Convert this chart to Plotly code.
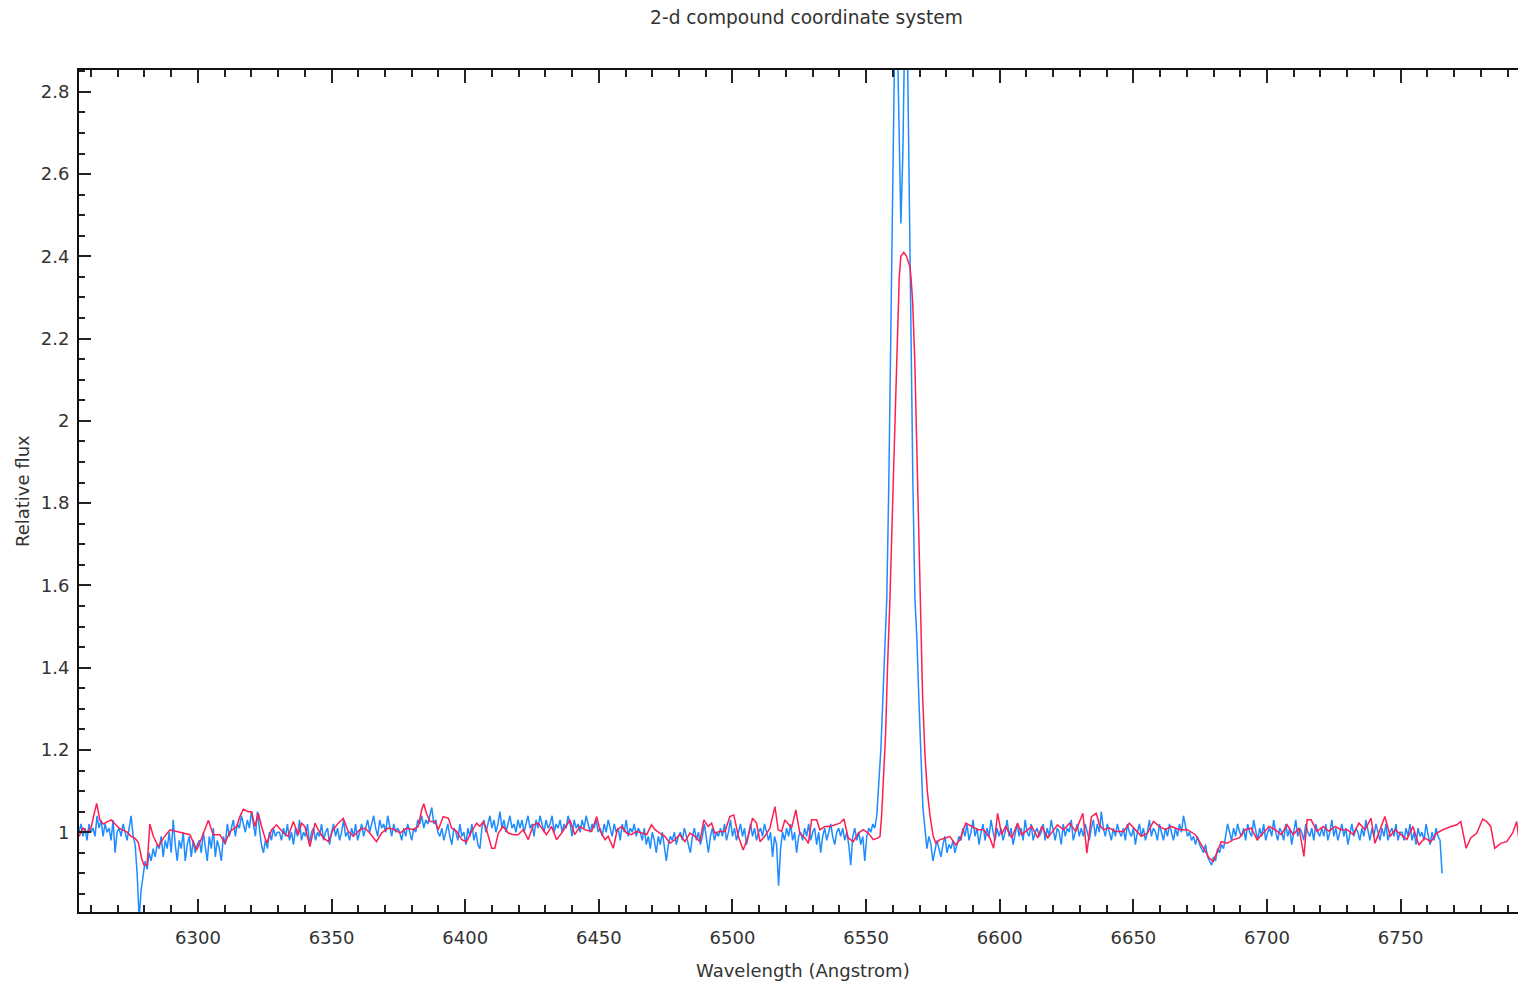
import plotly.graph_objects as go

# blue spectrum: regular wavelength grid, flux
blue_start = 6255.5
blue_step = 0.75
blue_flux = [
    1.00, 1.02, 0.99, 1.01, 0.98, 1.02, 1.00, 1.01, 0.99, 1.04, 1.01, 1.03, 0.99, 1.02, 1.00, 1.01, 0.98, 1.03, 0.95, 1.00,
    1.01, 0.99, 1.02, 1.00, 0.98, 1.01, 1.04, 0.99, 0.97, 0.90, 0.79, 0.86, 0.90, 0.93, 0.91, 0.95, 0.93, 0.96, 0.94, 0.97,
    0.96, 0.99, 0.94, 0.98, 0.96, 1.00, 0.95, 1.03, 0.97, 0.93, 0.98, 0.96, 1.00, 0.93, 0.97, 0.99, 0.94, 0.98, 0.95, 0.97,
    0.98, 0.95, 1.00, 0.97, 0.93, 0.99, 0.96, 1.01, 0.94, 0.98, 0.96, 0.93, 0.99, 0.97, 1.02, 0.99, 1.01, 1.03, 0.99, 1.02,
    1.01, 1.04, 1.02, 1.00, 1.03, 1.01, 1.05, 1.02, 0.99, 1.05, 1.01, 0.97, 0.95, 0.98, 0.96, 1.00, 0.98, 1.01, 0.99, 1.00,
    1.00, 0.98, 1.01, 0.99, 1.02, 0.98, 1.00, 0.97, 1.01, 0.99, 1.03, 0.98, 1.00, 0.99, 1.02, 0.97, 1.00, 1.01, 0.98, 1.00,
    0.99, 1.02, 0.98, 1.00, 1.01, 0.97, 1.00, 1.02, 0.99, 1.01, 0.98, 1.00, 1.03, 0.99, 1.00, 0.98, 1.01, 0.99, 1.02, 0.98,
    1.00, 1.02, 0.99, 1.01, 1.03, 1.00, 1.02, 1.04, 1.01, 0.99, 1.03, 1.01, 1.02, 1.00, 1.04, 1.01, 0.99, 1.02, 1.00, 1.01,
    1.00, 0.98, 1.01, 0.99, 1.02, 1.00, 0.98, 1.01, 1.00, 1.03, 1.02, 1.04, 1.01, 1.03, 1.02, 1.04, 1.06, 1.02, 1.03, 1.00,
    0.99, 1.01, 0.98, 1.00, 1.02, 0.99, 0.97, 1.01, 1.00, 0.98, 1.02, 0.99, 1.00, 0.97, 1.01, 0.99, 1.02, 0.98, 1.00, 0.97,
    0.96, 1.01, 1.03, 1.00, 1.02, 1.04, 1.01, 1.03, 1.00, 1.02, 1.05, 1.01, 1.03, 1.00, 1.02, 1.04, 1.01, 1.02, 1.00, 1.03,
    1.01, 1.03, 1.00, 1.02, 1.04, 1.01, 1.02, 0.99, 1.03, 1.01, 1.04, 1.02, 1.00, 1.03, 1.01, 1.02, 1.04, 1.00, 1.02, 1.01,
    1.03, 1.00, 1.02, 1.01, 1.04, 1.02, 0.99, 1.03, 1.01, 1.02, 1.00, 1.03, 1.01, 1.04, 1.02, 1.00, 1.02, 1.01, 1.03, 1.00,
    1.01, 0.99, 1.02, 1.00, 1.03, 1.01, 0.99, 1.02, 1.00, 1.01, 0.98, 1.02, 1.00, 1.03, 0.99, 1.01, 1.00, 1.02, 0.99, 1.01,
    1.00, 0.98, 1.01, 0.97, 0.99, 0.96, 1.00, 0.98, 0.95, 0.99, 0.97, 1.00, 0.96, 0.93, 0.97, 0.99, 0.98, 1.00, 0.97, 0.99,
    1.00, 0.98, 1.01, 0.99, 0.97, 0.95, 0.99, 1.01, 0.98, 1.00, 0.97, 0.99, 1.02, 0.98, 0.95, 0.99, 1.01, 0.98, 1.00, 0.99,
    1.01, 0.99, 1.02, 0.98, 1.00, 1.03, 0.99, 1.01, 0.98, 1.00, 1.02, 0.99, 1.01, 0.97, 1.00, 1.02, 0.99, 1.01, 0.98, 1.00,
    1.01, 0.99, 1.02, 1.00, 0.98, 1.00, 0.94, 0.99, 0.97, 0.87, 0.96, 1.00, 0.98, 1.01, 0.99, 1.02, 0.98, 1.00, 0.95, 0.99,
    1.00, 0.98, 1.01, 0.99, 1.02, 0.98, 1.00, 1.01, 0.97, 1.00, 0.95, 0.99, 1.01, 0.98, 1.00, 1.02, 0.99, 0.97, 1.00, 1.01,
    0.99, 1.01, 0.98, 1.00, 0.97, 0.92, 0.99, 1.01, 0.98, 1.00, 0.97, 0.99, 0.93, 0.99, 1.01, 1.00, 1.02, 1.01, 1.04, 1.12,
    1.20, 1.32, 1.43, 1.57, 1.85, 2.18, 2.60, 2.95, 3.00, 2.70, 2.48, 2.65, 2.98, 3.02, 2.62, 2.15, 1.85, 1.57, 1.47, 1.32,
    1.20, 1.06, 1.01, 0.96, 0.99, 0.97, 0.93, 0.96, 0.98, 0.96, 0.94, 0.97, 0.99, 0.95, 0.97, 0.96, 0.98, 0.95, 0.97, 0.99,
    0.98, 1.01, 0.99, 1.02, 0.98, 1.00, 1.03, 0.99, 1.01, 0.97, 1.00, 1.02, 0.98, 1.01, 0.99, 1.03, 1.00, 0.98, 1.01, 0.99,
    1.01, 0.98, 1.00, 1.03, 0.99, 1.01, 0.97, 1.00, 1.02, 0.99, 1.01, 0.98, 1.03, 1.00, 0.99, 1.02, 0.98, 1.00, 1.01, 0.99,
    1.00, 1.02, 0.98, 1.01, 0.99, 1.03, 1.00, 0.98, 1.01, 1.00, 0.97, 1.02, 0.99, 1.01, 1.00, 1.03, 0.98, 1.00, 1.02, 0.99,
    1.01, 0.99, 1.02, 1.00, 0.98, 1.01, 1.03, 0.99, 1.02, 1.00, 1.05, 1.01, 0.99, 1.02, 1.00, 0.98, 1.01, 0.99, 1.02, 1.00,
    0.99, 1.01, 0.98, 1.02, 1.00, 0.99, 1.01, 0.97, 1.00, 1.02, 0.99, 1.01, 0.98, 1.00, 1.03, 0.99, 1.01, 1.00, 0.98, 1.02,
    1.00, 0.98, 1.01, 0.99, 1.02, 1.00, 0.98, 1.01, 0.99, 1.02, 1.00, 1.04, 1.01, 0.99, 1.00, 0.98, 0.99, 0.97, 0.99, 0.97,
    0.96, 0.95, 0.97, 0.94, 0.93, 0.92, 0.94, 0.93, 0.96, 0.95, 0.97, 0.96, 0.99, 1.02, 1.00, 0.98, 1.01, 0.99, 1.02, 1.00,
    0.99, 1.01, 0.98, 1.02, 1.00, 0.99, 1.03, 1.00, 0.98, 1.01, 0.99, 1.02, 0.98, 1.00, 1.01, 0.99, 1.03, 1.00, 0.98, 1.01,
    1.00, 0.98, 1.02, 0.99, 1.01, 0.97, 1.00, 1.03, 0.99, 1.01, 1.00, 0.98, 1.02, 1.00, 0.99, 1.01, 0.98, 1.02, 1.00, 0.99,
    1.01, 0.99, 1.02, 0.98, 1.00, 1.03, 0.99, 1.01, 0.98, 1.00, 1.02, 0.99, 1.01, 0.97, 1.00, 1.02, 0.99, 1.01, 1.00, 0.98,
    1.01, 0.99, 1.03, 1.00, 0.98, 1.01, 0.99, 1.02, 1.00, 0.98, 1.01, 0.99, 1.02, 0.98, 1.00, 1.01, 0.99, 1.02, 0.98, 1.00,
    1.00, 0.98, 1.01, 0.99, 1.02, 0.98, 1.00, 0.97, 1.01, 0.99, 1.00, 0.98, 1.02, 0.99, 0.97, 1.00, 0.98, 1.01, 0.99, 0.98,
    0.90,
]

# red spectrum: lower resolution, sampled where it could be read
red_wave = [
    6255.5, 6257.0, 6258.5, 6260.0, 6261.0, 6262.1, 6263.3, 6264.6, 6266.0, 6267.5,
    6269.0, 6270.5, 6272.0, 6273.5, 6275.0, 6276.5, 6277.7, 6279.0, 6279.8, 6281.0,
    6282.0, 6283.3, 6285.2, 6287.0, 6289.5, 6292.0, 6294.5, 6297.0, 6299.5, 6301.4,
    6303.9, 6305.7, 6308.2, 6310.1, 6312.0, 6314.5, 6315.7, 6317.0, 6318.8, 6320.1,
    6321.3, 6322.6, 6323.8, 6325.7, 6327.6, 6329.4, 6332.0, 6333.8, 6335.7, 6337.5,
    6338.8, 6340.0, 6341.9, 6343.8, 6345.0, 6346.9, 6348.8, 6350.6, 6352.5, 6354.4,
    6356.2, 6358.1, 6360.6, 6362.5, 6364.3, 6366.8, 6368.7, 6371.2, 6373.7, 6375.6,
    6378.1, 6380.6, 6382.4, 6383.7, 6384.5, 6385.5, 6386.8, 6388.7, 6389.9, 6391.8,
    6393.7, 6394.9, 6396.8, 6398.7, 6400.5, 6402.4, 6404.3, 6405.5, 6406.8, 6408.0,
    6409.9, 6411.1, 6412.4, 6414.2, 6416.1, 6418.0, 6419.8, 6421.7, 6423.6, 6425.5,
    6427.3, 6429.2, 6430.4, 6432.3, 6434.2, 6436.1, 6437.9, 6439.2, 6441.0, 6442.9,
    6444.8, 6447.3, 6449.2, 6450.4, 6452.3, 6453.5, 6455.4, 6456.9, 6458.5, 6460.4,
    6462.2, 6464.1, 6466.0, 6467.9, 6469.7, 6471.0, 6472.8, 6474.7, 6476.6, 6478.5,
    6480.3, 6482.2, 6484.1, 6485.9, 6487.8, 6489.3, 6490.9, 6492.2, 6493.4, 6495.3,
    6497.2, 6499.0, 6500.5, 6502.2, 6504.0, 6505.9, 6507.5, 6509.0, 6510.3, 6512.1,
    6514.0, 6515.9, 6517.1, 6518.4, 6519.6, 6520.9, 6522.1, 6523.7, 6525.2, 6527.1,
    6528.4, 6529.6, 6531.5, 6532.7, 6534.6, 6536.5, 6538.3, 6540.2, 6541.7, 6543.3,
    6545.2, 6547.1, 6548.9, 6550.8, 6552.7, 6554.5, 6555.2, 6555.8, 6556.4, 6557.3,
    6558.0, 6558.9, 6560.2, 6561.6, 6562.4, 6563.0, 6564.1, 6565.1, 6566.4, 6566.9,
    6567.4, 6568.2, 6569.2, 6570.1, 6571.1, 6572.0, 6572.9, 6573.9, 6575.1, 6576.1,
    6577.6, 6579.8, 6581.3, 6583.6, 6585.1, 6587.3, 6589.5, 6591.8, 6594.0, 6596.3,
    6597.7, 6599.2, 6600.7, 6602.2, 6604.5, 6606.7, 6608.2, 6610.4, 6612.0, 6614.2,
    6615.7, 6618.0, 6620.2, 6621.6, 6623.9, 6626.1, 6628.4, 6631.1, 6632.6, 6634.3,
    6636.1, 6637.3, 6638.8, 6641.1, 6643.3, 6646.3, 6648.5, 6650.8, 6653.0, 6655.3,
    6657.5, 6659.7, 6662.0, 6664.2, 6667.2, 6670.2, 6673.2, 6676.2, 6678.4, 6679.9,
    6681.4, 6682.9, 6685.1, 6687.4, 6689.6, 6691.9, 6694.1, 6696.3, 6698.6, 6700.8,
    6703.1, 6705.3, 6707.5, 6709.8, 6712.0, 6713.8, 6715.0, 6716.5, 6718.7, 6721.0,
    6723.2, 6725.5, 6727.7, 6730.0, 6732.2, 6734.4, 6736.7, 6738.9, 6740.4, 6741.9,
    6744.1, 6746.1, 6747.9, 6750.1, 6752.3, 6754.6, 6756.8, 6759.0, 6761.3, 6763.5,
    6765.8, 6768.8, 6771.0, 6772.5, 6774.5, 6776.2, 6778.5, 6780.7, 6782.2, 6783.7,
    6785.2, 6787.4, 6789.7, 6791.9, 6793.4, 6794.5, 6795.7, 6797.0, 6799.0,
]
red_flux = [
    0.990, 1.010, 1.000, 1.010, 1.040, 1.070, 1.030, 1.020, 1.025, 1.030,
    1.020, 1.010, 1.005, 1.000, 0.990, 0.985, 0.975, 0.935, 0.920, 0.920,
    1.020, 0.990, 0.965, 0.985, 1.006, 1.002, 0.998, 0.994, 0.957, 0.986,
    1.029, 0.994, 0.994, 0.973, 1.002, 1.014, 1.038, 1.056, 1.050, 1.050,
    1.014, 1.046, 1.014, 0.973, 1.006, 1.018, 0.998, 0.990, 1.026, 0.994,
    1.022, 1.014, 0.965, 1.022, 1.006, 0.986, 0.977, 1.006, 1.022, 1.034,
    1.002, 0.990, 1.006, 1.010, 0.998, 0.977, 0.998, 1.010, 1.006, 0.998,
    1.010, 1.006, 1.014, 1.054, 1.069, 1.046, 1.026, 1.026, 1.006, 1.038,
    1.034, 1.010, 1.002, 0.982, 0.977, 1.002, 1.022, 1.014, 1.026, 1.006,
    0.961, 0.961, 0.998, 1.014, 0.998, 0.994, 0.994, 1.006, 0.982, 1.018,
    1.022, 1.006, 0.994, 1.014, 0.982, 0.998, 1.018, 1.030, 0.994, 1.014,
    1.006, 1.002, 1.038, 1.006, 0.982, 0.990, 0.961, 1.006, 1.014, 0.998,
    0.994, 1.002, 0.998, 0.994, 1.018, 1.006, 0.998, 0.990, 0.973, 0.982,
    0.994, 0.977, 0.998, 0.990, 0.977, 1.030, 1.014, 1.022, 0.998, 1.002,
    1.002, 1.038, 1.042, 0.990, 0.957, 0.990, 1.034, 1.022, 0.977, 0.990,
    1.010, 1.062, 1.006, 1.002, 1.030, 1.018, 1.010, 1.054, 0.998, 0.986,
    0.973, 1.030, 1.030, 1.006, 1.014, 1.014, 1.018, 1.022, 1.032, 0.986,
    0.977, 0.998, 1.006, 0.998, 0.982, 0.986, 0.990, 1.040, 1.120, 1.240,
    1.400, 1.565, 1.860, 2.150, 2.350, 2.400, 2.410, 2.400, 2.375, 2.340,
    2.290, 2.150, 1.860, 1.565, 1.340, 1.190, 1.100, 1.040, 0.990, 0.973,
    0.982, 0.986, 0.990, 0.969, 0.982, 1.022, 1.014, 1.006, 1.006, 0.986,
    0.961, 1.046, 0.994, 1.014, 0.986, 1.022, 0.994, 1.006, 1.014, 0.986,
    1.014, 0.986, 1.006, 1.018, 1.006, 1.022, 1.002, 1.046, 0.949, 1.038,
    1.046, 1.018, 1.006, 1.010, 1.002, 1.002, 1.022, 1.006, 0.990, 0.998,
    1.026, 1.014, 1.006, 1.014, 1.006, 1.006, 0.994, 0.961, 0.937, 0.929,
    0.953, 0.977, 0.973, 0.982, 0.986, 1.006, 1.010, 0.982, 0.998, 1.014,
    1.006, 0.994, 1.018, 0.994, 1.010, 0.941, 1.030, 1.030, 1.002, 1.014,
    1.002, 1.014, 1.006, 1.006, 0.994, 1.022, 1.006, 1.034, 0.973, 0.998,
    1.038, 0.990, 1.006, 0.994, 0.982, 1.014, 0.969, 0.986, 0.977, 0.998,
    1.006, 1.014, 1.018, 1.026, 0.961, 0.986, 0.998, 1.032, 1.026, 1.014,
    0.961, 0.973, 0.977, 0.998, 1.026, 0.969, 1.002, 1.000, 1.004,
]

blue_wave = [blue_start + blue_step * i for i in range(len(blue_flux))]

txt = dict(family="DejaVu Sans", size=18, color="#333333")

fig = go.Figure()
fig.add_trace(go.Scatter(x=blue_wave, y=blue_flux, mode="lines",
                         line=dict(color="#1E8CFF", width=1.5), showlegend=False))
fig.add_trace(go.Scatter(x=red_wave, y=red_flux, mode="lines",
                         line=dict(color="#FF1E50", width=1.5), showlegend=False))

# page body keeps its 8px margin, figure starts at (8, 8)
fig.update_layout(
    width=1518, height=975,
    margin=dict(l=71, r=0, t=62, b=71),
    paper_bgcolor="white", plot_bgcolor="white",
    font=txt,
    title=dict(text="2-d compound coordinate system", x=0.526, xref="container",
               y=1 - 9 / 975, yref="container", yanchor="middle", xanchor="center",
               font=dict(family="DejaVu Sans", size=18.6, color="#333333")),
    xaxis=dict(range=[6255.5, 6796.9], dtick=50, tick0=6300,
               ticks="inside", ticklen=13, tickwidth=1.5, tickcolor="#222",
               showline=True, linecolor="#111", linewidth=2, mirror="ticks",
               showgrid=False, zeroline=False, ticklabelstandoff=8,
               minor=dict(dtick=10, tick0=6300, ticks="inside", ticklen=7,
                          tickwidth=1.5, tickcolor="#222", showgrid=False)),
    yaxis=dict(range=[0.806, 2.853], dtick=0.2, tick0=0,
               ticks="inside", ticklen=12, tickwidth=1.5, tickcolor="#222",
               showline=True, linecolor="#111", linewidth=2,
               showgrid=False, zeroline=False, ticklabelstandoff=4,
               minor=dict(dtick=0.05, tick0=0, ticks="inside", ticklen=6,
                          tickwidth=1.5, tickcolor="#222", showgrid=False)),
    yaxis2=dict(range=[0.806, 2.853], dtick=0.2, tick0=0, overlaying="y", side="right",
                ticks="inside", ticklen=6, tickwidth=1.5, tickcolor="#444",
                showline=False, showgrid=False, zeroline=False, showticklabels=False),
    annotations=[
        dict(text="Wavelength (Angstrom)", xref="paper", yref="paper", x=0.5, y=0,
             yshift=-58, showarrow=False, yanchor="middle", font=txt),
        dict(text="Relative flux", xref="paper", yref="paper", x=0, y=0.5,
             xshift=-57, textangle=-90, showarrow=False, xanchor="center", font=txt),
    ],
)

fig.write_html("out.html")
